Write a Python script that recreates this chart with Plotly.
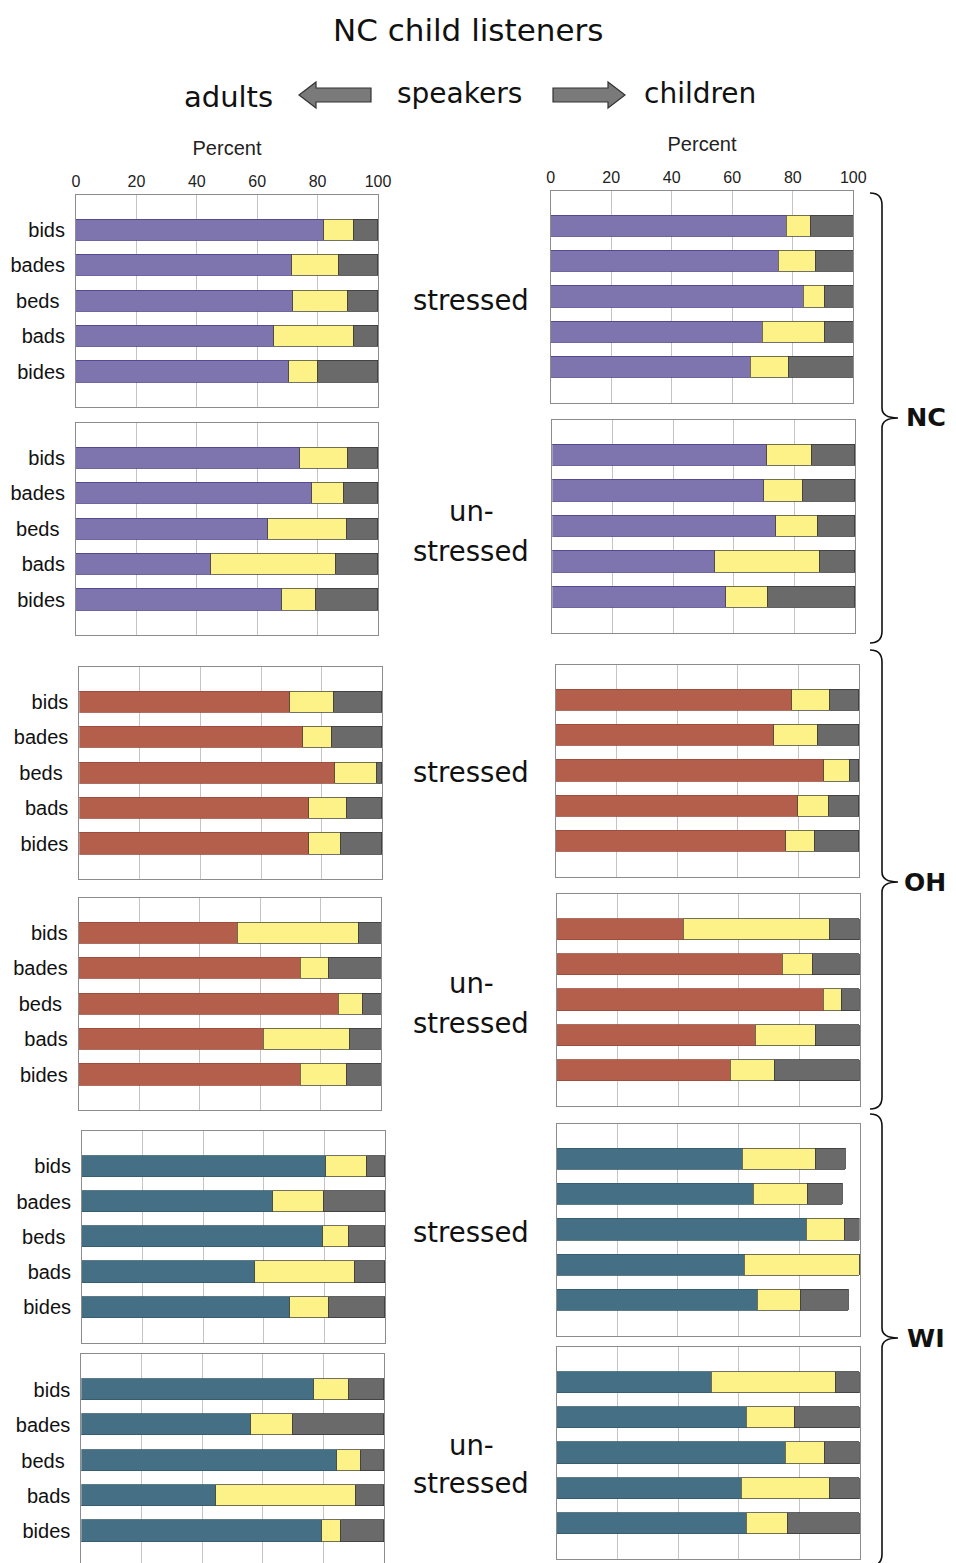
import plotly.graph_objects as go

W, H = 956, 1563          # target window
OFF = 8                   # page body margin in the browser
FW, FH = W - OFF, H - OFF  # figure size that fits the window

# ---------------- data ----------------
words = ["bids", "bades", "beds\u00a0", "bads", "bides"]
tick_vals = [0, 20, 40, 60, 80, 100]
tick_text = ["0", "20", "40", "60", "80", "100"]

# NC, adult speakers
nc_adult_str_main = [82, 71.5, 72, 65.5, 70.5]
nc_adult_str_yel = [10, 15.5, 18, 26.5, 9.5]
nc_adult_str_grey = [8, 13, 10, 8, 20]
nc_adult_uns_main = [74, 78, 63.5, 44.5, 68]
nc_adult_uns_yel = [16, 10.5, 26, 41.5, 11.5]
nc_adult_uns_grey = [10, 11.5, 10.5, 14, 20.5]
# NC, child speakers
nc_child_str_main = [78, 75.5, 83.5, 70, 66]
nc_child_str_yel = [8, 12, 7, 20.5, 12.5]
nc_child_str_grey = [14, 12.5, 9.5, 9.5, 21.5]
nc_child_uns_main = [71, 70, 74, 54, 57.5]
nc_child_uns_yel = [15, 13, 14, 34.5, 14]
nc_child_uns_grey = [14, 17, 12, 11.5, 28.5]
# OH, adult speakers
oh_adult_str_main = [69.5, 74, 84.5, 76, 76]
oh_adult_str_yel = [14.5, 9.5, 14, 12.5, 10.5]
oh_adult_str_grey = [16, 16.5, 1.5, 11.5, 13.5]
oh_adult_uns_main = [52.5, 73.5, 86, 61, 73.5]
oh_adult_uns_yel = [40, 9, 8, 28.5, 15]
oh_adult_uns_grey = [7.5, 17.5, 6, 10.5, 11.5]
# OH, child speakers
oh_child_str_main = [78, 72, 88.5, 80, 76]
oh_child_str_yel = [12.5, 14.5, 8.5, 10, 9.5]
oh_child_str_grey = [9.5, 13.5, 3, 10, 14.5]
oh_child_uns_main = [42, 74.5, 88, 65.5, 57.5]
oh_child_uns_yel = [48, 10, 6, 20, 14.5]
oh_child_uns_grey = [10, 15.5, 6, 14.5, 28]
# WI, adult speakers
wi_adult_str_main = [80.5, 63, 79.5, 57, 68.5]
wi_adult_str_yel = [13.5, 17, 8.5, 33, 13]
wi_adult_str_grey = [6, 20, 12, 10, 18.5]
wi_adult_uns_main = [77, 56, 84.5, 44.5, 79.5]
wi_adult_uns_yel = [11.5, 14, 8, 46.5, 6.5]
wi_adult_uns_grey = [11.5, 30, 7.5, 9, 14]
# WI, child speakers
wi_child_str_main = [61.5, 65, 82.5, 62, 66.5]
wi_child_str_yel = [24, 18, 12.5, 38, 14]
wi_child_str_grey = [10, 11.5, 5, 0, 16]
wi_child_uns_main = [51, 62.5, 75.5, 61, 62.5]
wi_child_uns_yel = [41, 16, 13, 29, 13.5]
wi_child_uns_grey = [8, 21.5, 11.5, 10, 24]

# ---------------- styling ----------------
PURPLE, RED, TEAL = "#7E74AE", "#B35F4C", "#446F84"
PURPLE_L, RED_L, TEAL_L = "#4B3F8A", "#9A4A3A", "#35596B"
YELLOW, GREY = "#FDF287", "#6B6A6A"

def fx(x):
    return (x - OFF) / FW

def fy(y):
    return 1 - (y - OFF) / FH

# (main, yellow, grey, colour, line colour, left px, right px, top px, bottom px, labels?, top ticks?)
panels = [
    (nc_adult_str_main, nc_adult_str_yel, nc_adult_str_grey, PURPLE, PURPLE_L, 76, 378, 194.6, 407, True, True),
    (nc_child_str_main, nc_child_str_yel, nc_child_str_grey, PURPLE, PURPLE_L, 550.7, 853.3, 190.8, 403, False, True),
    (nc_adult_uns_main, nc_adult_uns_yel, nc_adult_uns_grey, PURPLE, PURPLE_L, 76, 378.3, 422.7, 635, True, False),
    (nc_child_uns_main, nc_child_uns_yel, nc_child_uns_grey, PURPLE, PURPLE_L, 552.3, 855, 419.5, 632.7, False, False),
    (oh_adult_str_main, oh_adult_str_yel, oh_adult_str_grey, RED, RED_L, 79.3, 382.3, 666.5, 879, True, False),
    (oh_child_str_main, oh_child_str_yel, oh_child_str_grey, RED, RED_L, 556, 859, 664.5, 876.7, False, False),
    (oh_adult_uns_main, oh_adult_uns_yel, oh_adult_uns_grey, RED, RED_L, 78.7, 381.3, 897.5, 1110, True, False),
    (oh_child_uns_main, oh_child_uns_yel, oh_child_uns_grey, RED, RED_L, 556.7, 860, 894, 1106, False, False),
    (wi_adult_str_main, wi_adult_str_yel, wi_adult_str_grey, TEAL, TEAL_L, 82, 385, 1131, 1342.5, True, False),
    (wi_child_str_main, wi_child_str_yel, wi_child_str_grey, TEAL, TEAL_L, 556.7, 859.7, 1123.5, 1335.7, False, False),
    (wi_adult_uns_main, wi_adult_uns_yel, wi_adult_uns_grey, TEAL, TEAL_L, 81.3, 384, 1354.3, 1566.7, True, False),
    (wi_child_uns_main, wi_child_uns_yel, wi_child_uns_grey, TEAL, TEAL_L, 556.7, 860, 1347, 1559, False, False),
]

fig = go.Figure()
layout = {}
pos = [1, 2, 3, 4, 5]

for i, (m, yl, g, col, lcol, x0, x1, t, b, labels, top) in enumerate(panels, start=1):
    xa = "x" if i == 1 else f"x{i}"
    ya = "y" if i == 1 else f"y{i}"
    for vals, c, lc in ((m, col, lcol), (yl, YELLOW, "#4d4d40"), (g, GREY, "#3a3a3a")):
        fig.add_trace(go.Bar(
            x=vals, y=pos, orientation="h", width=0.6,
            marker=dict(color=c, line=dict(color=lc, width=0.8)),
            xaxis=xa, yaxis=ya, showlegend=False, hoverinfo="x",
        ))
    # vertical extent (last panel is cut by the page edge)
    yr_bottom = 6.0
    bb = b
    if b > H:
        yr_bottom = 6.0 * (H - t) / (b - t)
        bb = H
    xkey = "xaxis" if i == 1 else f"xaxis{i}"
    ykey = "yaxis" if i == 1 else f"yaxis{i}"
    xdict = dict(
        domain=[fx(x0), fx(x1)], range=[0, 100], anchor=ya,
        tickmode="array", tickvals=tick_vals, ticktext=tick_text,
        showgrid=True, gridcolor="#c4c4c4", gridwidth=1, zeroline=False,
        showline=True, mirror=True, linecolor="#8c8c8c", linewidth=1,
        showticklabels=top, automargin=False, fixedrange=True,
    )
    if top:
        xdict.update(side="top", ticks="", ticklen=0,
                     tickfont=dict(family="Liberation Sans, Arial", size=16, color="#222"),
                     title=dict(text="Percent", standoff=12,
                                font=dict(family="Liberation Sans, Arial", size=20, color="#222")))
    else:
        xdict.update(ticks="")
    ydict = dict(
        domain=[max(0.0, fy(bb)), fy(t)], range=[yr_bottom, 0], anchor=xa,
        tickmode="array", tickvals=pos, ticktext=words,
        showgrid=False, zeroline=False,
        showline=True, mirror=True, linecolor="#8c8c8c", linewidth=1,
        showticklabels=labels, automargin=False, fixedrange=True,
        ticks="outside" if labels else "", ticklen=6, tickcolor="rgba(0,0,0,0)",
        tickfont=dict(family="Liberation Sans, Arial", size=20, color="#111"),
    )
    layout[xkey] = xdict
    layout[ykey] = ydict

fig.update_layout(**layout)

# ---------------- text ----------------
ann = []
def text(x, y, s, size, bold=False, family="DejaVu Sans"):
    ann.append(dict(x=fx(x), y=fy(y), xref="paper", yref="paper", text=(f"<b>{s}</b>" if bold else s),
                    showarrow=False, xanchor="center", yanchor="middle",
                    font=dict(family=family, size=size, color="#111")))

text(468, 30, "NC child listeners", 31)
text(228, 97, "adults", 29)
text(459, 93, "speakers", 28)
text(700, 93, "children", 28)

text(471, 300, "stressed", 27.5)
text(471, 511, "un-", 27.5)
text(471, 551, "stressed", 27.5)
text(471, 772, "stressed", 27.5)
text(471, 983, "un-", 27.5)
text(471, 1023, "stressed", 27.5)
text(471, 1232, "stressed", 27.5)
text(471, 1445, "un-", 27.5)
text(471, 1483, "stressed", 27.5)

text(926, 417, "NC", 25.5, bold=True)
text(925, 882, "OH", 25, bold=True)
text(926, 1338, "WI", 25.5, bold=True)

# ---------------- shapes: arrows and braces ----------------
shapes = []

def path(pts):
    d = "M " + " L ".join(f"{fx(px)},{fy(py)}" for px, py in pts) + " Z"
    return d

left_arrow = [(299, 95), (316, 82), (316, 88), (371, 88), (371, 102), (316, 102), (316, 108)]
right_arrow = [(625, 95), (608, 82), (608, 88), (553, 88), (553, 102), (608, 102), (608, 108)]
for pts in (left_arrow, right_arrow):
    shapes.append(dict(type="path", xref="paper", yref="paper", path=path(pts),
                       fillcolor="#7a7a7a", line=dict(color="#333", width=1.2)))

def brace(y0, ym, y1, xl=882, xs=870, xt=898):
    def P(px, py):
        return f"{fx(px)},{fy(py)}"
    d = (f"M {P(xs, y0)} Q {P(xl, y0)} {P(xl, y0 + 12)} L {P(xl, ym - 10)} "
         f"Q {P(xl, ym)} {P(xt, ym)} Q {P(xl, ym)} {P(xl, ym + 10)} "
         f"L {P(xl, y1 - 12)} Q {P(xl, y1)} {P(xs, y1)}")
    return dict(type="path", xref="paper", yref="paper", path=d, line=dict(color="#111", width=1.6))

shapes.append(brace(193, 418, 643))
shapes.append(brace(650, 882, 1109))
shapes.append(brace(1114, 1338, 1566))

fig.update_layout(
    width=FW, height=FH, margin=dict(l=0, r=0, t=0, b=0),
    paper_bgcolor="white", plot_bgcolor="white",
    barmode="stack", bargap=0,
    annotations=ann, shapes=shapes,
)

fig.write_html("out.html")
